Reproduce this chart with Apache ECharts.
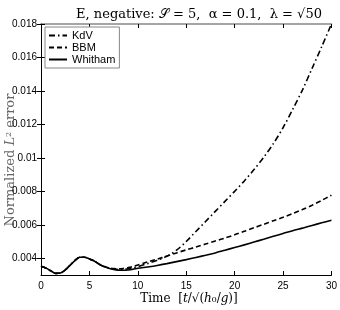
<!DOCTYPE html>
<html>
<head>
<meta charset="utf-8">
<script src="https://cdn.jsdelivr.net/npm/echarts@6/dist/echarts.min.js"></script>
<style>html,body{margin:0;padding:0;background:#fff}#c{width:340px;height:310px}</style>
</head>
<body>
<div id="c"></div>
<script>
var times = [0,0.5,1,1.5,2,2.5,3,3.5,4,4.5,5,5.5,6,6.5,7,7.5,8,8.5,9,9.5,10,
  11,12,13,14,15,16,17,18,19,20,21,22,23,24,25,26,27,28,29,30];
var kdv = [0.00352,0.00342,0.00325,0.00310,0.00312,0.00330,0.00358,0.00386,0.00406,0.00406,0.00396,0.00384,0.00365,
  0.00351,0.00342,0.00336,0.00333,0.00334,0.00337,0.00343,0.00350,
  0.00368,0.00388,0.00412,0.00448,0.00500,0.00560,0.00620,0.00680,0.00740,0.00800,0.00862,0.00930,0.01003,0.01085,0.01180,0.01290,0.01405,0.01535,0.01665,0.01800];
var bbm = [0.00352,0.00342,0.00325,0.00310,0.00312,0.00330,0.00358,0.00386,0.00406,0.00406,0.00396,0.00384,0.00365,
  0.00352,0.00343,0.00338,0.00337,0.00339,0.00344,0.00351,0.00360,
  0.00378,0.00395,0.00413,0.00432,0.00450,0.00467,0.00485,0.00503,0.00521,0.00540,0.00561,0.00582,0.00603,0.00624,0.00645,0.00667,0.00691,0.00717,0.00746,0.00777];
var whitham = [0.00352,0.00342,0.00325,0.00310,0.00312,0.00330,0.00358,0.00386,0.00406,0.00406,0.00396,0.00384,0.00365,
  0.00350,0.00340,0.00333,0.00329,0.00328,0.00330,0.00334,0.00340,
  0.00348,0.00357,0.00368,0.00380,0.00392,0.00405,0.00418,0.00432,0.00448,0.00464,0.00480,0.00497,0.00514,0.00531,0.00548,0.00565,0.00580,0.00596,0.00612,0.00627];
var yTicks = [0.004,0.006,0.008,0.01,0.012,0.014,0.016,0.018];
var seriesNames = ['KdV','BBM','Whitham'];

function pairs(v){ return times.map(function(t,i){ return [t, v[i]]; }); }

var chart = echarts.init(document.getElementById('c'), null, {renderer:'canvas'});
var sans = 'Liberation Sans, Arial, sans-serif';
var serif = 'DejaVu Serif, Liberation Serif, serif';
var axisCommon = {
  axisLine:{show:true,lineStyle:{color:'#000',width:1}},
  axisTick:{show:true,inside:true,length:4,lineStyle:{color:'#000'}},
  splitLine:{show:false}
};
chart.setOption({
  animation:false,
  backgroundColor:'#fff',
  title:{
    text:'E, negative: 𝒮 = 5,  α = 0.1,  λ = √50',
    left:194, top:3, textAlign:'center',
    textStyle:{fontFamily:serif,fontSize:13,fontWeight:'normal',color:'#000'}
  },
  grid:{left:41,right:8,top:24,bottom:35,containLabel:false},
  legend:{
    orient:'vertical', left:45, top:27,
    data:seriesNames,
    itemWidth:18, itemHeight:10, itemGap:1,
    padding:[3,4,3,3],
    backgroundColor:'#fff',
    borderColor:'#888', borderWidth:1, borderRadius:0,
    itemStyle:{color:'rgba(0,0,0,0)',borderColor:'rgba(0,0,0,0)',borderWidth:0},
    textStyle:{fontFamily:sans,fontSize:11,color:'#000'}
  },
  xAxis:[
    Object.assign({type:'value',min:0,max:30,interval:5,position:'bottom',
      axisLabel:{fontFamily:sans,fontSize:10,color:'#000',margin:6}},axisCommon),
    Object.assign({type:'value',min:0,max:30,interval:5,position:'top',
      axisLabel:{show:false}},axisCommon,{axisLine:{show:true,lineStyle:{color:'#888',width:1.5}}})
  ],
  yAxis:[
    Object.assign({type:'value',min:0.003,max:0.018,position:'left',
      axisLabel:{fontFamily:sans,fontSize:10,color:'#000',margin:4,customValues:yTicks,
        formatter:function(v){return String(+v.toFixed(3));}}},axisCommon,
      {axisTick:{show:true,inside:true,length:4,customValues:yTicks,lineStyle:{color:'#000'}}}),
    Object.assign({type:'value',min:0.003,max:0.018,position:'right',
      axisLabel:{show:false,customValues:yTicks}},axisCommon,
      {axisTick:{show:true,inside:true,length:4,customValues:yTicks,lineStyle:{color:'#000'}}})
  ],
  series:[
    {name:'KdV',type:'line',data:pairs(kdv),smooth:0.3,showSymbol:false,symbol:'none',
      lineStyle:{color:'#000',width:1.6,type:[6,3,1.5,3]},itemStyle:{color:'#000'}},
    {name:'BBM',type:'line',data:pairs(bbm),smooth:0.3,showSymbol:false,symbol:'none',
      lineStyle:{color:'#000',width:1.6,type:[5,3]},itemStyle:{color:'#000'}},
    {name:'Whitham',type:'line',data:pairs(whitham),smooth:0.3,showSymbol:false,symbol:'none',
      lineStyle:{color:'#000',width:1.6,type:'solid'},itemStyle:{color:'#000'}}
  ],
  graphic:[
    {type:'text',x:11,y:160,rotation:Math.PI/2,
      style:{text:'Normalized {i|L}{s|2} error',fill:'#666',font:'13px '+serif,
        align:'center',verticalAlign:'middle',
        rich:{i:{fontStyle:'italic',fontFamily:serif,fontSize:13,fill:'#666'},
              s:{fontFamily:serif,fontSize:8,fill:'#666',verticalAlign:'top'}}}},
    {type:'text',x:189,y:299,
      style:{text:'Time  [{i|t}/√({i|h}₀/{i|g})]',fill:'#000',font:'12px '+serif,
        align:'center',verticalAlign:'middle',
        rich:{i:{fontStyle:'italic',fontFamily:serif,fontSize:12,fill:'#000'}}}}
  ]
});
</script>
</body>
</html>
